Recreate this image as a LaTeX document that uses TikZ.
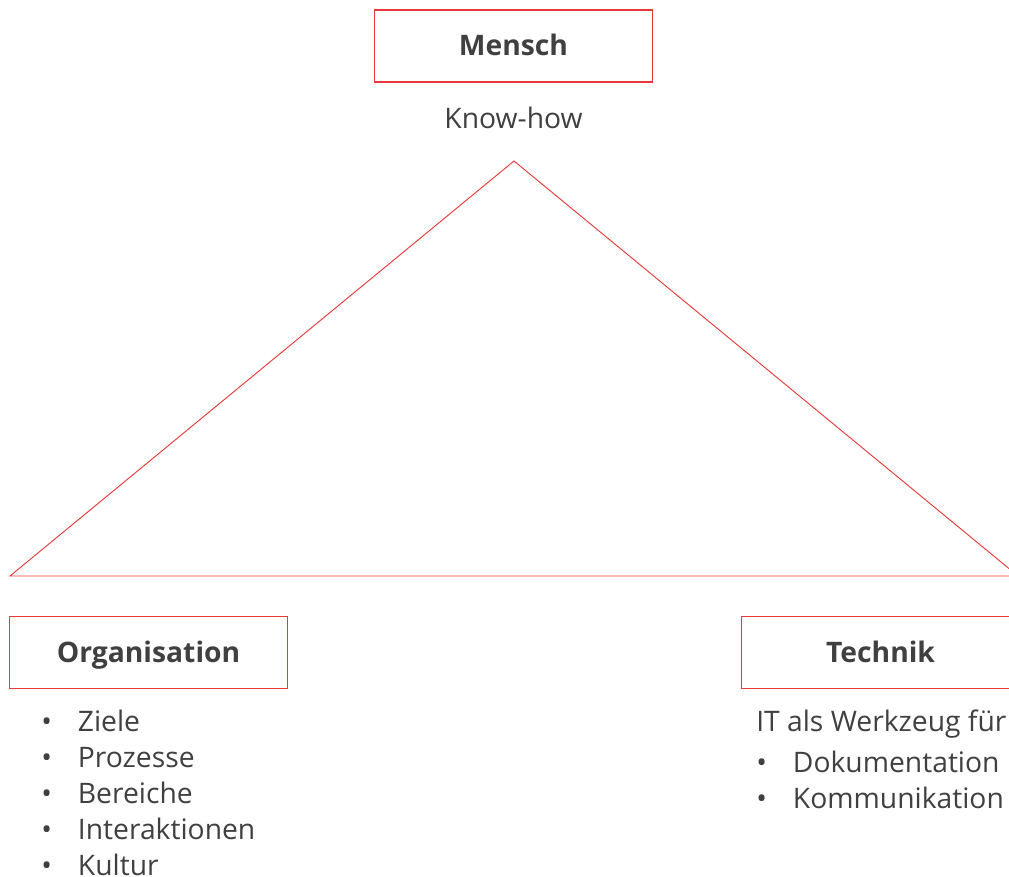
\documentclass[tikz,border=0pt]{standalone}
\usepackage{fontspec}
\setmainfont{Open Sans}
\usetikzlibrary{positioning}

\definecolor{FrameRed}{RGB}{232, 56, 56}
\definecolor{TextGrey}{RGB}{64, 64, 64}

% one list entry: bullet, then the text at a fixed indent
\newcommand{\punkt}[1]{\makebox[27.5pt][l]{\textbullet}#1}

\tikzset{
  pillar/.style={rectangle, draw=FrameRed, line width=0.8pt, minimum width=209pt, minimum height=54pt, inner sep=0pt, text height=15pt, text depth=0pt, text=TextGrey, font=\fontsize{21.2}{26}\selectfont\bfseries},
  plain/.style={inner sep=0pt, text=TextGrey, font=\fontsize{21.2}{27}\selectfont},
}

\begin{document}
\begin{tikzpicture}[x=0.75pt, y=-0.75pt]
\useasboundingbox (0,0) rectangle (1009,877);

% triangle
\coordinate (apex) at (514,161);
\coordinate (baseL) at (10,576);
\coordinate (baseR) at (1018,576);
\draw[FrameRed, line width=0.7pt] (apex) -- (baseR) -- (baseL) -- cycle;

% the three corners
\node[pillar] (mensch) at (513.5,46) {Mensch};
\node[plain, anchor=base] (knowhow) at (513.5,129) {Know-how};
\node[pillar] (org) at (148.5,652.5) {Organisation};
\node[pillar] (tech) at (880.5,652.5) {Technik};

% lists under the boxes
\node[plain, anchor=base west] (orglist) at (41,731) {\begin{tabular}[t]{@{}l@{}}
\punkt{Ziele}\\
\punkt{Prozesse}\\
\punkt{Bereiche}\\
\punkt{Interaktionen}\\
\punkt{Kultur}
\end{tabular}};
\node[plain, anchor=base west] (techlist) at (756,731) {\begin{tabular}[t]{@{}l@{}}
IT als Werkzeug für\\[3.75pt]
\punkt{Dokumentation}\\
\punkt{Kommunikation}
\end{tabular}};
\end{tikzpicture}
\end{document}
